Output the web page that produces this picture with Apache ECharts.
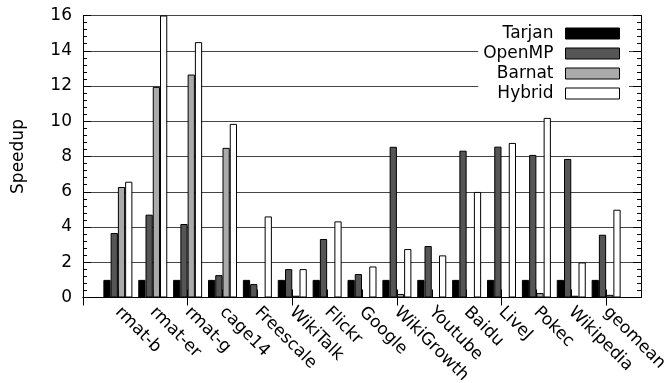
<!DOCTYPE html>
<html>
<head>
<meta charset="utf-8">
<script src="https://cdn.jsdelivr.net/npm/echarts@6/dist/echarts.min.js"></script>
<style>
html,body{margin:0;padding:0;background:#fff;}
#chart{width:667px;height:383px;}
</style>
</head>
<body>
<div id="chart"></div>
<script>
const categories = ['rmat-b','rmat-er','rmat-g','cage14','Freescale','WikiTalk','Flickr','Google','WikiGrowth','Youtube','Baidu','LiveJ','Pokec','Wikipedia','geomean'];
const tarjan = [1, 1, 1, 1, 1, 1, 1, 1, 1, 1, 1, 1, 1, 1, 1];
const openmp = [3.66, 4.7, 4.17, 1.27, 0.76, 1.61, 3.32, 1.33, 8.55, 2.92, 8.33, 8.56, 8.09, 7.86, 3.56];
const barnat = [6.27, 11.95, 12.65, 8.49, 0, 0.1, 0, 0, 0.2, 0, 0, 0, 0.25, 0.1, 0.15];
const hybrid = [6.57, 16, 14.49, 9.85, 4.6, 1.61, 4.32, 1.76, 2.75, 2.39, 5.99, 8.77, 10.19, 1.99, 4.98];
const seriesNames = ['Tarjan', 'OpenMP', 'Barnat', 'Hybrid'];
const yTicks = [0, 2, 4, 6, 8, 10, 12, 14, 16];

const FONT = 'DejaVu Sans';
const FS = 17;
const colors = ['#000000', '#555555', '#aaaaaa', '#ffffff'];
const pad = arr => [null].concat(arr, [null]);
const axisCats = [''].concat(categories, ['']);

const chart = echarts.init(document.getElementById('chart'), null, {renderer: 'canvas'});
const mkSeries = (name, data, i) => ({
  name: name, type: 'bar', data: pad(data),
  barWidth: 7.25, barGap: '0%',
  itemStyle: {color: colors[i], borderColor: '#000', borderWidth: 1},
  emphasis: {disabled: true}, animation: false
});
chart.setOption({
  animation: false,
  textStyle: {fontFamily: FONT},
  grid: {left: 83, right: 26, top: 15.5, bottom: 85.5, containLabel: false, outerBoundsMode: 'none'},
  legend: {
    data: seriesNames, orient: 'vertical', align: 'right',
    right: 38, top: 24, padding: [1, 9, 4, 5],
    backgroundColor: '#fff',
    itemWidth: 54, itemHeight: 11, itemGap: 3,
    icon: 'rect',
    itemStyle: {borderColor: '#000', borderWidth: 1},
    textStyle: {fontFamily: FONT, fontSize: FS, color: '#000', padding: [0, 7, 0, 0]},
    selectedMode: false
  },
  xAxis: [{
    type: 'category', data: axisCats, boundaryGap: false, position: 'bottom',
    axisLine: {lineStyle: {color: '#000', width: 1}},
    axisTick: {show: true, inside: true, length: 8, lineStyle: {color: '#000'}},
    axisLabel: {rotate: -45, fontFamily: FONT, fontSize: FS, color: '#000', margin: 12, interval: 0},
    splitLine: {show: false}
  }, {
    type: 'category', data: axisCats, boundaryGap: false, position: 'top',
    axisLine: {lineStyle: {color: '#000', width: 1}},
    axisTick: {show: true, inside: true, length: 8, lineStyle: {color: '#000'}},
    axisLabel: {show: false},
    splitLine: {show: false}
  }],
  yAxis: [{
    type: 'value', min: yTicks[0], max: yTicks[yTicks.length - 1], interval: 2, position: 'left',
    name: 'Speedup', nameLocation: 'middle', nameGap: 56,
    nameTextStyle: {fontFamily: FONT, fontSize: FS, color: '#000'},
    axisLine: {show: true, lineStyle: {color: '#000', width: 1}},
    axisTick: {show: true, inside: true, length: 8, lineStyle: {color: '#000'}},
    minorTick: {show: true, splitNumber: 5, length: 4, lineStyle: {color: '#000'}},
    axisLabel: {fontFamily: FONT, fontSize: FS, color: '#000', margin: 11},
    splitLine: {show: true, lineStyle: {color: '#444', width: 1}}
  }, {
    type: 'value', min: yTicks[0], max: yTicks[yTicks.length - 1], interval: 2, position: 'right',
    axisLine: {show: true, lineStyle: {color: '#000', width: 1}},
    axisTick: {show: true, inside: true, length: 8, lineStyle: {color: '#000'}},
    minorTick: {show: true, splitNumber: 5, length: 4, lineStyle: {color: '#000'}},
    axisLabel: {show: false},
    splitLine: {show: false}
  }],
  series: [
    mkSeries('Tarjan', tarjan, 0),
    mkSeries('OpenMP', openmp, 1),
    mkSeries('Barnat', barnat, 2),
    mkSeries('Hybrid', hybrid, 3)
  ]
});
</script>
</body>
</html>
